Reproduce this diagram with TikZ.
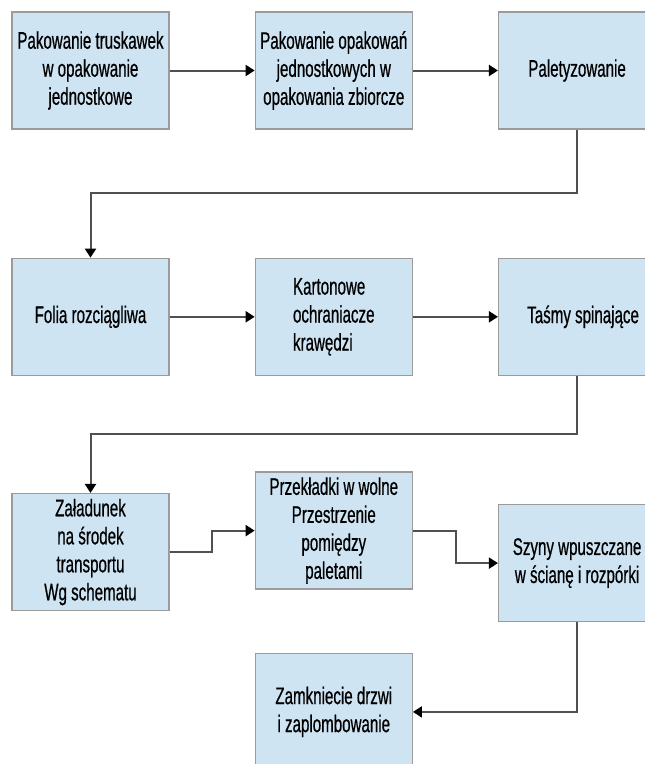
\documentclass[tikz,border=0pt]{standalone}
\usepackage{fontspec}
\newfontfamily\boxfont[FakeStretch=0.63, FakeBold=0.6]{Liberation Sans}
\usetikzlibrary{arrows.meta, positioning}
\definecolor{boxfill}{RGB}{207,228,243}
\definecolor{boxedge}{RGB}{155,155,155}
\definecolor{linegray}{RGB}{80,80,80}
\tikzset{%
    block/.style = {draw=boxedge, fill=boxfill, rectangle, line width=1.3pt,
        minimum width=157pt, minimum height=117pt, inner sep=0pt,
        align=center, text=black, font=\boxfont\fontsize{24}{28}\selectfont},
    line/.style = {draw=linegray, line width=2pt,
        -{Triangle[length=9pt, width=11pt, color=black]}},
}

\begin{document}
\begin{tikzpicture}[x=1pt, y=1pt, node distance = 85pt]
    \useasboundingbox (0,0) rectangle (645,-764);
    \node [block] (pack) at (90.5,-70.5) {Pakowanie truskawek\\w opakowanie\\jednostkowe};
    \node [block, right=of pack] (bulk) {Pakowanie opakowań\\jednostkowych w\\opakowania zbiorcze};
    \node [block, right=of bulk] (pallet) {Paletyzowanie};
    \path [line] (pack) -- (bulk);
    \path [line] (bulk) -- (pallet);
    \node [block, below=128pt of pack] (foil) {Folia rozciągliwa};
    \path [line] (pallet.south) -- ++(0,-63) -| (foil.north);
    \node [block, right=of foil, align=left] (edges) {Kartonowe\\ochraniacze\\krawędzi};
    \node [block, right=of edges] (straps) {\hspace*{12pt}Taśmy spinające};
    \path [line] (foil) -- (edges);
    \path [line] (edges) -- (straps);
    \node [block, below=117pt of foil] (load) {Załadunek\\na środek\\transportu\\Wg schematu};
    \path [line] (straps.south) -- ++(0,-58) -| (load.north);
    \node [block, right=of load, yshift=21.5pt] (spacer) {Przekładki w wolne\\Przestrzenie\\pomiędzy\\paletami};
    \path [line] (load.east) -- ++(42,0) |- (spacer.west);
    \node [block, right=of spacer, yshift=-32.5pt] (rails) {Szyny wpuszczane\\w ścianę i rozpórki};
    \path [line] (spacer.east) -- ++(43,0) |- (rails.west);
    \node [block, below=63pt of spacer] (doors) {Zamkniecie drzwi\\i zaplombowanie};
    \path [line] (rails.south) |- (doors.east);
\end{tikzpicture}
\end{document}
